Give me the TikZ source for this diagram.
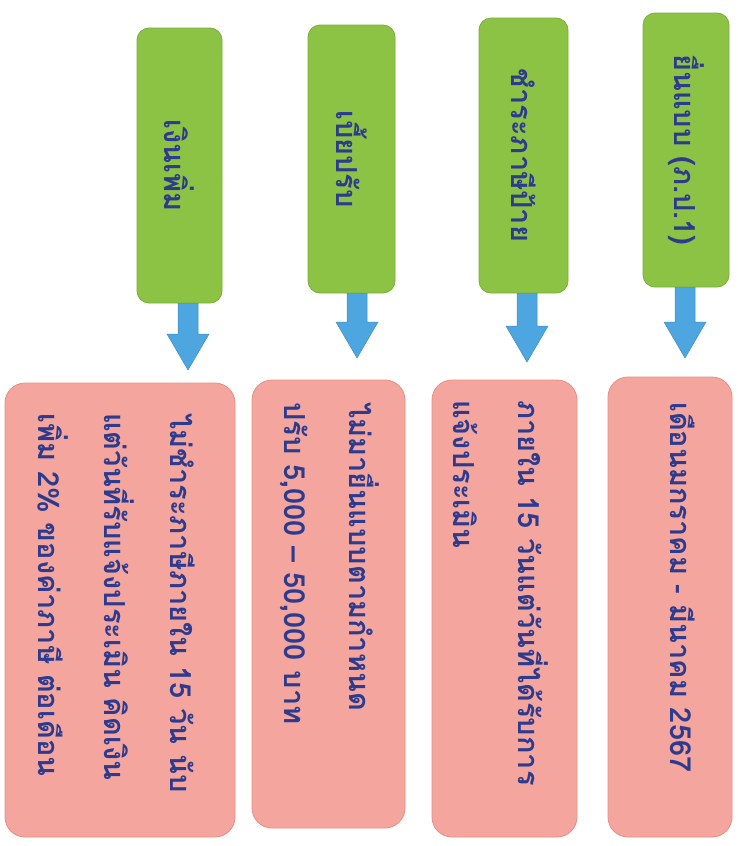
\documentclass[tikz,border=0pt]{standalone}
\usepackage{fontspec}
\newfontfamily\thaifont[Script=Thai]{Loma}
\usetikzlibrary{arrows.meta,calc}
\definecolor{gfill}{HTML}{8DC345}
\definecolor{gedge}{HTML}{7AAE3C}
\definecolor{pfill}{HTML}{F4A69E}
\definecolor{pedge}{HTML}{E98E82}
\definecolor{afill}{HTML}{4DA6E0}
\definecolor{tcol}{HTML}{2D3B8E}
\begin{document}
\begin{tikzpicture}[x=1pt,y=-1pt,
  gbox/.style={draw=gedge, fill=gfill, rounded corners=12pt, line width=0.8pt, inner sep=0pt},
  pbox/.style={draw=pedge, fill=pfill, rounded corners=20pt, line width=0.8pt, inner sep=0pt},
  gtext/.style={rotate=-90, text=tcol, font=\thaifont\bfseries\fontsize{29}{33}\selectfont},
  ptext/.style={rotate=-90, anchor=west, align=left, text=tcol, inner sep=0pt, font=\thaifont\bfseries\fontsize{29}{65}\selectfont},
  arr/.style={draw=afill!85!black, fill=afill, line width=0.5pt}
]
\useasboundingbox (0,0) rectangle (737,846);
\fill[white] (0,0) rectangle (737,846);
% green boxes
\node[gbox, minimum width=86pt, minimum height=274pt] (g1) at (686,150) {};
\node[gbox, minimum width=89pt, minimum height=275pt] (g2) at (523.5,155.5) {};
\node[gbox, minimum width=87pt, minimum height=268pt] (g3) at (351.5,159) {};
\node[gbox, minimum width=85pt, minimum height=275pt] (g4) at (179.5,165.5) {};
\node[gtext] (gt1) at (g1) {ยื่นแบบ (ภ.ป.1)};
\node[gtext] (gt2) at (g2) {ชำระภาษีป้าย};
\node[gtext] (gt3) at (g3) {เบี้ยปรับ};
\node[gtext] (gt4) at (g4) {เงินเพิ่ม};
% pink boxes
\node[pbox, minimum width=124pt, minimum height=460pt] (p1) at (670,607) {};
\node[pbox, minimum width=145pt, minimum height=457pt] (p2) at (504.5,608.5) {};
\node[pbox, minimum width=153pt, minimum height=448pt] (p3) at (328.5,604) {};
\node[pbox, minimum width=230pt, minimum height=454pt] (p4) at (120,610) {};
\node[ptext] (pt1) at (683,402) {เดือนมกราคม - มีนาคม 2567};
\node[ptext] (pt2) at (501,400) {ภายใน 15 วันแต่วันที่ได้รับการ\\แจ้งประเมิน};
\node[ptext] (pt3) at (330,402) {ไม่มายื่นแบบตามกำหนด\\ปรับ 5,000 – 50,000 บาท};
\node[ptext, font=\thaifont\bfseries\fontsize{29}{66}\selectfont] (pt4) at (116,413) {ไม่ชำระภาษีภายใน 15 วัน นับ\\แต่วันที่รับแจ้งประเมิน คิดเงิน\\เพิ่ม 2\% ของค่าภาษี ต่อเดือน};
% arrows
\coordinate (t1) at (685,358);
\coordinate (t2) at (527,362);
\coordinate (t3) at (357,358);
\coordinate (t4) at (188,370);
\foreach \i in {1,2,3,4}{
  \path (t\i |- g\i.south) coordinate (s\i);
  \filldraw[arr] ($(s\i)+(-10,0)$) -- ($(t\i)+(-10,-36)$) -- ($(t\i)+(-21,-36)$) -- (t\i) -- ($(t\i)+(21,-36)$) -- ($(t\i)+(10,-36)$) -- ($(s\i)+(10,0)$) -- cycle;
}
\end{tikzpicture}
\end{document}
